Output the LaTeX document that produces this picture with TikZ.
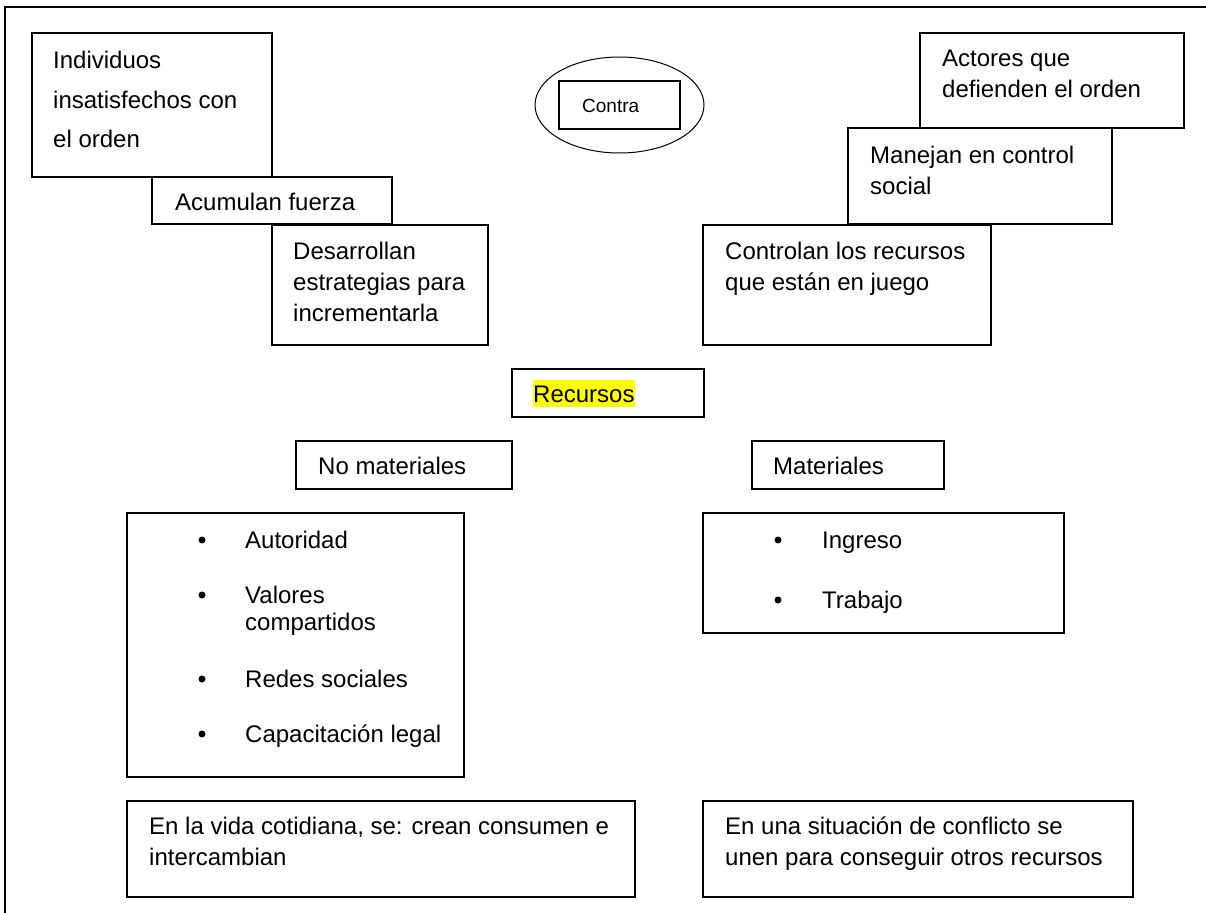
\documentclass[tikz,border=0pt]{standalone}
\usepackage{fontspec}
\setmainfont{Liberation Sans}
\usetikzlibrary{shapes.geometric,calc}
\tikzset{
	box/.style={draw,line width=1.3pt,anchor=north west,inner sep=0pt,outer sep=0pt},
	txt/.style={anchor=base west,inner sep=0pt,align=left,font=\fontsize{24}{31}\selectfont},
	bullet/.style={circle,fill=black,inner sep=0pt,minimum size=7pt}
}
\definecolor{Highlight}{RGB}{255,255,0}

\begin{document}
\begin{tikzpicture}[x=1pt,y=-1pt]
		\useasboundingbox (0,0) rectangle (1206,912);

		% page frame
		\draw[line width=1.3pt] (5,920) -- (5,7) -- (1215,7);

		% left stair (base anchor = last line)
		\node[box,minimum width=240,minimum height=144] (indiv) at (32,33) {};
		\node[txt,font=\fontsize{24}{39.5}\selectfont] (indivT) at ($(indiv.north west)+(21,115)$) {Individuos\\insatisfechos con\\el orden};
		\node[box,minimum width=240,minimum height=47] (acum) at (152,177) {};
		\node[txt] (acumT) at ($(acum.north west)+(23,33)$) {Acumulan fuerza};
		\node[box,minimum width=216,minimum height=120] (desa) at (272,225) {};
		\node[txt] (desaT) at ($(desa.north west)+(21,96)$) {Desarrollan\\estrategias para\\incrementarla};

		% contra
		\node[draw,ellipse,line width=1pt,minimum width=169,minimum height=96] (contraOval) at (619.5,105) {};
		\node[box,minimum width=121,minimum height=48] (contra) at (559,81) {};
		\node[txt,font=\fontsize{19}{24}\selectfont] (contraT) at ($(contra.north west)+(23,32)$) {Contra};

		% right stair
		\node[box,minimum width=264,minimum height=95] (actor) at (920,33) {};
		\node[txt] (actorT) at ($(actor.north west)+(22,65)$) {Actores que\\defienden el orden};
		\node[box,minimum width=264,minimum height=96] (maneja) at (848,128) {};
		\node[txt] (manejaT) at ($(maneja.north west)+(22,66)$) {Manejan en control\\social};
		\node[box,minimum width=288,minimum height=120] (control) at (703,225) {};
		\node[txt] (controlT) at ($(control.north west)+(22,65)$) {Controlan los recursos\\que están en juego};

		% recursos
		\node[box,minimum width=192,minimum height=48] (recur) at (512,369) {};
		\node[txt,fill=Highlight,text height=22,text depth=5] (recurT) at ($(recur.north west)+(21,33)$) {Recursos};
		\node[box,minimum width=216,minimum height=48] (nomat) at (296,441) {};
		\node[txt] (nomatT) at ($(nomat.north west)+(22,33)$) {No materiales};
		\node[box,minimum width=192,minimum height=48] (mat) at (752,441) {};
		\node[txt] (matT) at ($(mat.north west)+(21,33)$) {Materiales};

		% lists
		\node[box,minimum width=337,minimum height=264] (nomatList) at (127,513) {};
		\foreach \dy/\ty/\name/\item in {35/35/auto/Autoridad,90/117/valor/{Valores\\compartidos},174/174/redes/Redes sociales,229/229/capac/Capacitación legal}{
			\node[bullet] (\name Dot) at ($(nomatList.north west)+(75,\dy-8)$) {};
			\node[txt,font=\fontsize{24}{27}\selectfont] (\name T) at ($(nomatList.north west)+(118,\ty)$) {\item};
		}
		\node[box,minimum width=361,minimum height=120] (matList) at (703,513) {};
		\foreach \dy/\name/\item in {35/ingreso/Ingreso,95/trabajo/Trabajo}{
			\node[bullet] (\name Dot) at ($(matList.north west)+(75,\dy-8)$) {};
			\node[txt] (\name T) at ($(matList.north west)+(119,\dy)$) {\item};
		}

		% bottom notes
		\node[box,minimum width=508,minimum height=96] (vida) at (127,801) {};
		\node[txt] (vidaT) at ($(vida.north west)+(22,64)$) {En la vida cotidiana, se: crean consumen e\\intercambian};
		\node[box,minimum width=430,minimum height=96] (confl) at (703,801) {};
		\node[txt] (conflT) at ($(confl.north west)+(22,64)$) {En una situación de conflicto se\\unen para conseguir otros recursos};

	\end{tikzpicture}
\end{document}
